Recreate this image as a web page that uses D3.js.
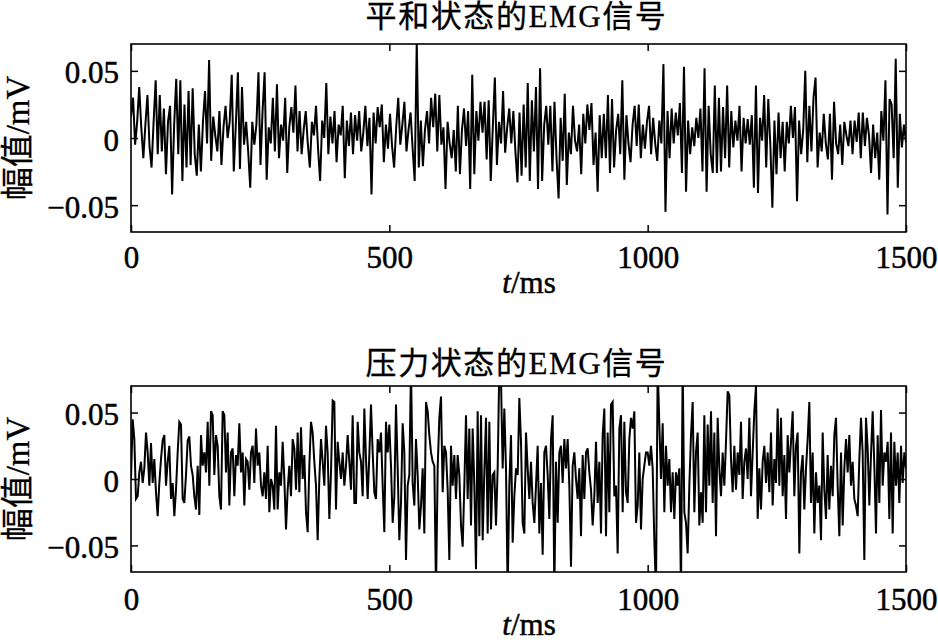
<!DOCTYPE html>
<html><head><meta charset="utf-8">
<script src="https://cdn.jsdelivr.net/npm/d3@7"></script>
<style>body{margin:0;background:#fff}svg{display:block}</style>
</head><body>
<svg id="chart" width="938" height="643"></svg>
<script>
// ---------- data ----------
const titles = ["平和状态的EMG信号", "压力状态的EMG信号"];
const yLabelText = "幅值/mV";
const xLabelItalic = "t";
const xLabelRest = "/ms";
const xTicks = [0, 500, 1000, 1500];
const yTicks = [-0.05, 0, 0.05];
const xDomain = [0, 1500];
const yDomain = [-0.07, 0.07];

// 平和状态 EMG (mV), evenly sampled over 0–1500 ms
const calmSignal = [
0.016,0.030,-0.005,0.012,0.038,0.008,-0.015,0.010,0.032,-0.006,-0.022,0.012,0.043,-0.012,0.032,-0.010,0.022,-0.027,0.012,0.024,-0.042,0.010,0.044,-0.012,0.043,-0.032,0.025,-0.022,0.035,-0.020,0.037,-0.012,-0.028,0.010,-0.025,0.012,0.035,-0.004,0.058,
-0.017,0.016,0.002,-0.010,0.020,-0.020,0.008,0.024,0.000,0.012,0.047,-0.025,0.010,0.049,-0.023,0.038,-0.005,0.012,-0.010,-0.037,0.012,-0.005,0.010,0.049,-0.020,0.020,0.049,
-0.031,0.008,-0.004,0.030,-0.010,0.040,-0.015,0.010,-0.002,0.030,-0.026,0.008,0.023,0.004,0.039,-0.010,0.020,-0.012,0.006,0.020,-0.004,-0.022,0.012,0.002,0.024,-0.008,-0.032,0.013,0.000,0.041,-0.012,0.016,-0.004,0.020,-0.018,0.010,0.002,0.024,-0.030,0.013,-0.006,0.019,-0.012,0.017,-0.002,0.020,-0.010,0.004,0.024,-0.006,0.015,-0.042,
0.019,-0.004,0.023,0.008,0.025,-0.018,0.010,-0.008,
0.018,-0.006,-0.022,0.008,0.030,-0.005,0.010,0.027,-0.010,0.006,0.019,-0.008,-0.032,0.072,-0.022,0.013,-0.021,0.006,0.020,-0.004,
0.030,0.008,0.033,-0.010,0.032,-0.005,0.008,-0.038,0.012,-0.004,-0.015,0.006,-0.025,0.024,-0.027,0.006,0.022,-0.006,0.020,-0.038,
0.047,-0.027,0.020,-0.002,0.027,0.004,0.027,-0.016,0.028,-0.032,0.008,0.045,-0.020,0.012,-0.004,0.035,-0.011,0.008,0.022,-0.004,
0.020,-0.010,-0.033,0.019,-0.028,0.025,-0.022,0.041,-0.032,0.028,-0.010,0.038,-0.038,0.052,-0.032,0.010,0.024,-0.005,0.024,-0.025,
0.027,-0.015,-0.045,0.015,-0.017,0.033,-0.035,0.004,-0.012,0.024,-0.002,-0.010,0.010,-0.027,0.018,-0.004,0.025,0.006,0.026,-0.020,
0.004,-0.040,0.017,-0.015,0.018,-0.015,0.032,-0.026,0.029,-0.022,0.006,0.018,-0.012,0.043,-0.031,0.017,-0.004,-0.018,0.010,0.024,
-0.006,0.025,-0.015,0.010,-0.008,0.012,
0.024,-0.012,0.015,-0.004,-0.017,0.013,-0.004,0.055,-0.055,0.020,-0.015,0.022,-0.004,0.019,0.002,0.026,-0.026,0.053,-0.040,0.013,
-0.012,0.008,-0.006,0.015,0.000,0.022,-0.025,0.052,-0.040,0.024,-0.012,-0.026,0.039,-0.026,0.030,-0.025,0.023,-0.015,0.039,-0.022,
0.020,-0.007,0.013,-0.002,0.024,-0.025,0.015,-0.004,0.014,-0.005,0.017,-0.037,0.039,-0.041,0.015,-0.002,0.032,-0.022,0.029,-0.005,
-0.052,0.013,-0.027,0.019,-0.015,0.012,-0.025,0.012,-0.004,0.024,0.000,0.023,-0.047,0.013,-0.012,0.006,0.050,-0.018,0.024,-0.010,
0.030,0.045,-0.022,0.004,-0.010,0.018,-0.004,-0.016,0.018,-0.031,0.027,-0.004,-0.012,0.010,-0.020,0.012,0.002,-0.006,0.013,-0.012,
0.013,-0.003,0.019,-0.015,0.019,-0.006,0.015,0.002,-0.026,0.010,-0.015,0.004,-0.031,0.020,-0.002,0.043,-0.057,0.029,0.025,-0.015,
0.059,-0.037,0.018,-0.007,0.010,-0.003
];

// 压力状态 EMG (mV), evenly sampled over 0–1500 ms (values beyond the axis are clipped)
const stressSignal = [
0.000,0.045,0.030,-0.015,-0.013,0.005,0.013,-0.003,0.008,0.035,0.020,-0.005,0.027,-0.003,0.015,-0.010,-0.028,-0.003,0.015,0.029,
0.033,-0.005,0.013,0.025,-0.015,-0.003,-0.028,-0.008,0.020,0.043,0.041,-0.015,-0.018,0.003,0.029,0.032,0.010,0.003,-0.013,-0.023,
0.010,-0.027,0.033,0.010,0.020,0.005,0.043,-0.005,0.051,0.048,0.003,0.033,0.025,-0.013,-0.023,0.051,0.048,0.005,0.035,-0.020,
0.020,0.023,-0.013,0.018,0.010,0.042,0.005,0.020,-0.020,0.015,0.013,-0.008,0.020,0.025,-0.003,0.038,0.010,0.020,-0.005,-0.013,
0.005,-0.015,0.025,-0.025,0.000,-0.005,-0.023,0.040,-0.023,0.005,-0.005,0.028,0.000,-0.038,-0.008,0.010,-0.013,0.030,0.023,-0.008,
0.035,-0.010,0.039,0.000,0.018,-0.025,-0.040,0.010,0.043,0.035,0.013,-0.005,-0.046,0.000,0.030,0.013,-0.005,0.040,0.020,-0.030,
0.005,0.059,0.058,-0.023,0.028,0.013,0.000,0.020,-0.005,0.010,0.033,0.013,-0.008,0.048,-0.018,-0.018,0.043,0.020,0.013,-0.013,
0.053,0.015,-0.015,0.018,0.056,0.020,-0.010,-0.015,0.030,0.020,0.035,-0.005,-0.040,0.043,0.020,
0.041,0.010,-0.033,-0.013,0.056,0.008,-0.046,-0.018,0.042,0.020,-0.061,-0.005,0.003,0.085,-0.003,-0.020,0.030,0.003,-0.038,-0.020,
0.008,-0.041,0.058,0.051,0.033,0.020,0.013,0.010,-0.085,0.008,0.046,0.062,-0.010,0.025,0.020,-0.008,-0.061,0.025,-0.005,0.018,
-0.015,0.018,0.003,-0.035,-0.051,-0.005,0.048,-0.015,0.038,-0.035,0.038,-0.005,-0.068,0.051,-0.043,0.048,-0.046,0.005,0.046,-0.041,
0.043,-0.038,0.003,0.005,-0.035,0.008,0.085,0.075,0.008,0.053,0.008,-0.085,-0.005,0.033,-0.048,-0.013,0.008,0.003,0.061,0.028,
-0.033,-0.041,0.035,0.008,-0.015,0.013,-0.018,-0.033,-0.005,0.025,-0.041,-0.003,-0.057,0.020,0.025,0.003,-0.030,0.030,0.048,-0.085,
0.013,-0.033,0.020,0.025,-0.003,0.030,0.008,0.030,-0.005,-0.066,0.010,0.020,0.000,-0.015,0.008,-0.043,0.018,-0.015,0.020,0.023,
0.005,-0.008,-0.035,-0.013,0.028,-0.018,0.013,-0.041,0.033,0.053,-0.043,0.035,-0.025,0.056,0.058,-0.013,-0.005,-0.056,0.038,0.048,
-0.025,0.043,-0.010,-0.018,0.030,0.046,0.038,0.051,-0.033,-0.020,0.020,-0.038,0.000,0.010,0.020,0.020,
0.010,0.025,0.008,-0.046,-0.085,0.085,0.041,0.000,0.042,-0.025,0.025,-0.005,0.015,-0.025,0.005,-0.030,0.005,-0.005,0.008,-0.085,
0.085,-0.025,-0.033,-0.056,-0.005,0.033,0.058,-0.025,0.020,0.035,-0.035,-0.010,-0.033,0.048,-0.025,0.041,-0.005,0.051,-0.018,0.035,
-0.043,0.046,0.008,-0.013,0.020,-0.005,0.028,0.066,0.063,0.015,-0.010,0.025,-0.008,0.020,0.003,0.043,-0.015,0.013,0.023,0.000,
0.046,-0.013,0.020,0.051,0.070,-0.030,0.008,-0.023,0.013,0.025,-0.003,0.020,-0.010,0.035,-0.020,0.015,-0.003,0.053,-0.005,0.046,
-0.013,0.018,-0.030,0.033,0.005,0.028,0.051,-0.013,0.025,0.035,-0.056,0.005,0.018,-0.023,0.008,0.030,0.058,-0.018,0.020,-0.041,
0.005,-0.018,-0.005,-0.046,0.035,-0.008,-0.030,0.018,-0.023,0.010,-0.013,0.033,0.046,-0.005,-0.043,0.020,-0.035,0.008,0.030,0.005,
0.033,-0.005,0.013,-0.015,-0.020,-0.028,0.015,0.046,0.020,-0.061,0.046,0.023,-0.020,0.018,0.051,0.010,-0.041,0.033,-0.018,0.052,
-0.005,0.020,0.013,0.028,-0.030,0.035,-0.041,0.028,-0.005,0.020,-0.018,0.025,-0.003,0.020,0.008
];

const seriesList = [calmSignal, stressSignal];

// ---------- layout ----------
const svg = d3.select("#chart");
const left = 131, right = 906;
const panels = [
  {top: 44, bottom: 232, titleY: 27, tickLabelPad: 14, xLabelY: 293},
  {top: 386, bottom: 572, titleY: 374, tickLabelPad: 16, xLabelY: 635}
];
const latin = "'Liberation Serif','Times New Roman',serif";
const cjk = "'Liberation Serif','Noto Sans CJK SC',serif";
const yFmt = d3.format("~g");

panels.forEach((p, k) => {
  const data = seriesList[k];
  const x = d3.scaleLinear().domain(xDomain).range([left, right]);
  const y = d3.scaleLinear().domain(yDomain).range([p.bottom, p.top]);
  const step = (xDomain[1] - xDomain[0]) / (data.length - 1);
  const g = svg.append("g");

  const clipId = "clip" + k;
  svg.append("clipPath").attr("id", clipId)
    .append("rect").attr("x", left).attr("y", p.top)
    .attr("width", right - left).attr("height", p.bottom - p.top);

  const line = d3.line()
    .x((d, i) => x(xDomain[0] + i * step))
    .y(d => y(d));

  g.append("path").datum(data)
    .attr("clip-path", `url(#${clipId})`)
    .attr("d", line)
    .attr("fill", "none")
    .attr("stroke", "#000")
    .attr("stroke-width", 2);

  // axes with inward ticks
  const axB = g.append("g").attr("transform", `translate(0,${p.bottom})`)
    .call(d3.axisBottom(x).tickValues(xTicks).tickSizeInner(-7).tickSizeOuter(0).tickPadding(p.tickLabelPad).tickFormat(d3.format("d")));
  const axT = g.append("g").attr("transform", `translate(0,${p.top})`)
    .call(d3.axisTop(x).tickValues(xTicks).tickSizeInner(-7).tickSizeOuter(0).tickFormat(""));
  const axL = g.append("g").attr("transform", `translate(${left},0)`)
    .call(d3.axisLeft(y).tickValues(yTicks).tickSizeInner(-7).tickSizeOuter(0).tickPadding(12).tickFormat(yFmt));
  const axR = g.append("g").attr("transform", `translate(${right},0)`)
    .call(d3.axisRight(y).tickValues(yTicks).tickSizeInner(-7).tickSizeOuter(0).tickFormat(""));
  [axB, axT, axL, axR].forEach(a => {
    a.select(".domain").remove();
    a.selectAll(".tick line").attr("stroke", "#000").attr("stroke-width", 1.5);
    a.selectAll("text").attr("font-family", latin).attr("font-size", 31).attr("fill", "#000")
      .attr("stroke", "#000").attr("stroke-width", 0.5);
  });
  axL.selectAll("text").attr("dy", null).attr("dominant-baseline", "auto")
    .attr("transform", "translate(0,12)");

  // frame
  g.append("rect").attr("x", left).attr("y", p.top)
    .attr("width", right - left).attr("height", p.bottom - p.top)
    .attr("fill", "none").attr("stroke", "#000").attr("stroke-width", 1.6);

  // title
  g.append("text").attr("x", 516.5).attr("y", p.titleY)
    .attr("text-anchor", "middle")
    .attr("font-family", cjk).attr("font-size", 31)
    .attr("letter-spacing", 1.6)
    .attr("stroke", "#000").attr("stroke-width", 0.3)
    .text(titles[k]);

  // y label
  const cy = (p.top + p.bottom) / 2;
  g.append("text")
    .attr("transform", `translate(29,${cy}) rotate(-90)`)
    .attr("text-anchor", "middle")
    .attr("font-family", cjk).attr("font-size", 33)
    .attr("stroke", "#000").attr("stroke-width", 0.3)
    .text(yLabelText);

  // x label
  const xl = g.append("text").attr("x", 529).attr("y", p.xLabelY)
    .attr("text-anchor", "middle")
    .attr("font-family", latin).attr("font-size", 31)
    .attr("stroke", "#000").attr("stroke-width", 0.5);
  xl.append("tspan").attr("font-style", "italic").text(xLabelItalic);
  xl.append("tspan").text(xLabelRest);
});
</script>
</body></html>
